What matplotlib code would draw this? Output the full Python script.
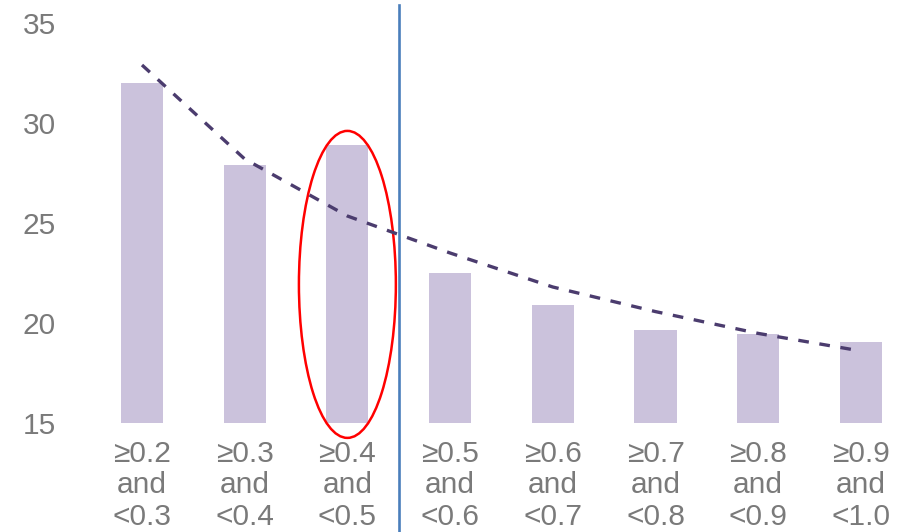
import numpy as np
import matplotlib
matplotlib.use("Agg")
from matplotlib import pyplot as plt
from matplotlib.patches import Ellipse

# Data
categories = ["≥0.2\nand\n<0.3", "≥0.3\nand\n<0.4", "≥0.4\nand\n<0.5", "≥0.5\nand\n<0.6",
              "≥0.6\nand\n<0.7", "≥0.7\nand\n<0.8", "≥0.8\nand\n<0.9", "≥0.9\nand\n<1.0"]
bar_values = [32.0, 27.9, 28.9, 22.5, 20.9, 19.65, 19.47, 19.03]
trend_values = [32.9, 28.2, 25.35, 23.5, 21.8, 20.57, 19.48, 18.6]
y_ticks = [15, 20, 25, 30, 35]

plt.rcParams['font.family'] = ['Liberation Sans', 'DejaVu Sans']
gray = '#7a7a7a'

fig = plt.figure(figsize=(9.08, 5.32), dpi=100)
ax = fig.add_axes([0.0771, 0.2049, 0.9229, 0.7857])

x = np.arange(len(categories))
ax.bar(x, np.array(bar_values) - 15, bottom=15, width=0.41, color='#cbc2dc')
ax.plot(x, trend_values, color='#4b3c6e', linewidth=2.4, dashes=(3.2, 3.2))

# separator line
ax.axvline(2.5, ymin=-0.27, ymax=1, color='#4a7ebb', linewidth=1.9, clip_on=False)

# highlight ellipse
ax.add_patch(Ellipse((2.0, 21.93), 0.944, 15.35, fill=False, edgecolor='#ff0000',
                     linewidth=1.8, clip_on=False))

ax.set_xlim(-0.701, 7.459)
ax.set_ylim(15, 35.9)
ax.set_yticks(y_ticks)
ax.set_xticks(x)
ax.set_xticklabels(categories, linespacing=1.17)
ax.tick_params(axis='both', length=0, labelsize=21.5, labelcolor=gray)
ax.tick_params(axis='y', pad=10)
ax.tick_params(axis='x', pad=12)
for s in ax.spines.values():
    s.set_visible(False)

fig.savefig('out.png', dpi=100)
